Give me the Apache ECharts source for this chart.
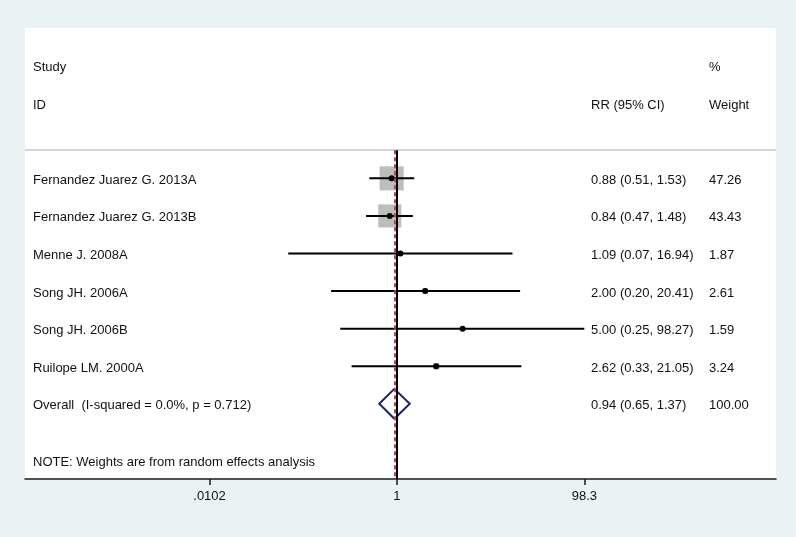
<!DOCTYPE html>
<html>
<head>
<meta charset="utf-8">
<title>Forest plot</title>
<script src="https://cdn.jsdelivr.net/npm/echarts@6/dist/echarts.min.js"></script>
<style>
html, body { margin: 0; padding: 0; background: #eaf2f3; }
#main { width: 796px; height: 537px; }
</style>
</head>
<body>
<div id="main"></div>
<script>
// study rows
var studies = ['Fernandez Juarez G. 2013A', 'Fernandez Juarez G. 2013B', 'Menne J. 2008A',
               'Song JH. 2006A', 'Song JH. 2006B', 'Ruilope LM. 2000A'];
var rr      = [0.88, 0.84, 1.09, 2.00, 5.00, 2.62];
var lower   = [0.51, 0.47, 0.07, 0.20, 0.25, 0.33];
var upper   = [1.53, 1.48, 16.94, 20.41, 98.27, 21.05];
var weights = [47.26, 43.43, 1.87, 2.61, 1.59, 3.24];

// pooled estimate
var overallLabel = 'Overall  (I-squared = 0.0%, p = 0.712)';
var overallRR = [0.94, 0.65, 1.37];
var overallWeight = 100;

// axis ticks
var tickValues = [0.0102, 1, 98.3];
var tickLabels = ['.0102', '1', '98.3'];

var note = 'NOTE: Weights are from random effects analysis';

var FONT = '"Liberation Sans", Arial, Helvetica, sans-serif';
var log10 = function (v) { return Math.log10(v); };
var xMin = -3.953, xMax = 4.03;
var overallRow = studies.length;

function fmt(v) { return v.toFixed(2); }
function ciText(r, l, u) { return fmt(r) + ' (' + fmt(l) + ', ' + fmt(u) + ')'; }

// rows for the text columns: [row, name, ci, weight]
var textRows = [
  [-3, 'Study', '', '%'],
  [-2, 'ID', 'RR (95% CI)', 'Weight']
];
studies.forEach(function (s, i) {
  textRows.push([i, s, ciText(rr[i], lower[i], upper[i]), fmt(weights[i])]);
});
textRows.push([overallRow, overallLabel, ciText(overallRR[0], overallRR[1], overallRR[2]), fmt(overallWeight)]);
textRows.push([overallRow + 1.5, note, '', '']);

var studyData = studies.map(function (s, i) {
  return [log10(rr[i]), i, log10(lower[i]), log10(upper[i]), weights[i]];
});

function renderStudy(params, api) {
  var row = api.value(1);
  var pC = api.coord([api.value(0), row]);
  var pL = api.coord([api.value(2), row]);
  var pR = api.coord([api.value(3), row]);
  var side = 3.5 * Math.sqrt(api.value(4));
  return {
    type: 'group',
    children: [
      { type: 'rect', shape: { x: pC[0] - side / 2, y: pC[1] - side / 2, width: side, height: side },
        style: { fill: '#bdbdbd' } },
      { type: 'line', shape: { x1: pL[0], y1: pL[1], x2: pR[0], y2: pR[1] },
        style: { stroke: '#000', lineWidth: 2 } },
      { type: 'circle', shape: { cx: pC[0], cy: pC[1], r: 3 }, style: { fill: '#000' } }
    ]
  };
}

function renderDiamond(params, api) {
  var row = api.value(1);
  var pC = api.coord([api.value(0), row]);
  var pL = api.coord([api.value(2), row]);
  var pR = api.coord([api.value(3), row]);
  var h = 15;
  return {
    type: 'polygon',
    shape: { points: [[pL[0], pC[1]], [pC[0], pC[1] - h], [pR[0], pC[1]], [pC[0], pC[1] + h]] },
    style: { fill: 'none', stroke: '#1c2470', lineWidth: 2 }
  };
}

function renderText(params, api) {
  var r = textRows[params.dataIndex];
  var y = api.coord([0, r[0]])[1] + 2;
  var cols = [33, 591, 709];
  var kids = [];
  for (var k = 0; k < 3; k++) {
    var t = r[k + 1];
    if (!t) continue;
    kids.push({
      type: 'text',
      style: { x: cols[k], y: y, text: t, fill: '#111', font: '13px ' + FONT,
               textAlign: 'left', textVerticalAlign: 'middle' }
    });
  }
  return { type: 'group', children: kids };
}

var myChart = echarts.init(document.getElementById('main'));
var option = {
  backgroundColor: '#eaf2f3',
  animation: false,
  grid: { left: 25, right: 20, top: 28, bottom: 58, show: true, backgroundColor: '#fff', borderWidth: 0 },
  xAxis: {
    type: 'value',
    min: xMin,
    max: xMax,
    splitLine: { show: false },
    axisLine: { onZero: false, lineStyle: { color: '#1a1a1a', width: 1.5 } },
    axisTick: { customValues: tickValues.map(log10), length: 6, lineStyle: { color: '#1a1a1a', width: 1.5 } },
    axisLabel: {
      customValues: tickValues.map(log10),
      margin: 11,
      color: '#111',
      fontSize: 13,
      fontFamily: FONT,
      formatter: function (v) {
        for (var k = 0; k < tickValues.length; k++) {
          if (Math.abs(log10(tickValues[k]) - v) < 1e-6) return tickLabels[k];
        }
        return '';
      }
    }
  },
  yAxis: { type: 'value', inverse: true, min: -4, max: 8, show: false },
  series: [
    {
      type: 'custom',
      name: 'lines',
      data: [],
      renderItem: function () { return null; },
      markLine: {
        symbol: 'none',
        silent: true,
        label: { show: false },
        data: [
          [{ coord: [xMin, -0.75], lineStyle: { color: '#c6c6c6', width: 1.5, type: 'solid' } }, { coord: [xMax, -0.75] }],
          [{ coord: [0, -0.75], lineStyle: { color: '#000', width: 2, type: 'solid' } }, { coord: [0, 8] }],
          [{ coord: [log10(overallRR[0]), -0.75], lineStyle: { color: '#b8434f', width: 2, type: [4, 3] } },
           { coord: [log10(overallRR[0]), 8] }]
        ]
      }
    },
    {
      type: 'custom',
      name: 'studies',
      renderItem: renderStudy,
      data: studyData,
      z: 3
    },
    {
      type: 'custom',
      name: 'overall',
      renderItem: renderDiamond,
      data: [[log10(overallRR[0]), overallRow, log10(overallRR[1]), log10(overallRR[2])]],
      z: 3
    },
    {
      type: 'custom',
      name: 'text',
      renderItem: renderText,
      data: textRows.map(function (r) { return [0, r[0]]; }),
      z: 4
    }
  ]
};
myChart.setOption(option);
</script>
</body>
</html>
